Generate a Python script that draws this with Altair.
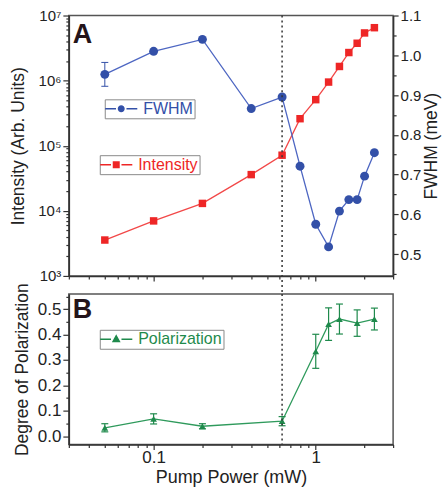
import altair as alt
import pandas as pd

# ---------------- data ----------------
power = [0.05, 0.1, 0.2, 0.4, 0.62, 0.8, 1.0, 1.2, 1.4, 1.6, 1.8, 2.0, 2.3]
intensity = [3.56e3, 7.0e3, 1.3e4, 3.6e4, 7.15e4, 2.6e5, 5.1e5, 9.5e5,
             1.65e6, 2.7e6, 3.75e6, 5.4e6, 6.5e6]
fwhm = [0.952, 1.010, 1.040, 0.866, 0.895, 0.721, 0.575, 0.518,
        0.608, 0.637, 0.637, 0.696, 0.755]
fwhm_err_power = [0.05]
fwhm_err_value = [0.952]
fwhm_err = [0.03]

pol_power = [0.05, 0.1, 0.2, 0.62, 1.0, 1.2, 1.4, 1.8, 2.3]
polarization = [0.033, 0.068, 0.039, 0.059, 0.334, 0.441, 0.461, 0.445, 0.461]
pol_err = [0.016, 0.02, 0.01, 0.018, 0.067, 0.064, 0.059, 0.052, 0.043]

threshold = [0.62]
panel_a = ["A"]
panel_b = ["B"]

# ---------------- style ----------------
FONT = "Liberation Sans"
BLUE = "#3350a8"
BLUE_LINE = "#4d66c2"
RED = "#ee2626"
RED_LINE = "#f24848"
GREEN = "#1f8a4c"
GREEN_LINE = "#2f9a5c"
W = 325
TOP_H = 261
BOT_H = 151
GAP = 16

MAJ_LOG = "abs(log(datum.value)/LN10 - round(log(datum.value)/LN10)) < 0.001"
MAJ_TENTH = "abs(datum.value*10 - round(datum.value*10)) < 0.001"
SUP = "['\u2070','\u00b9','\u00b2','\u00b3','\u2074','\u2075','\u2076','\u2077','\u2078']"

x_ticks = [round(m * 10.0 ** e, 6) for e in (-2, -1, 0) for m in range(1, 10)
           if 0.03 - 1e-9 <= m * 10.0 ** e <= 3 + 1e-9]
int_ticks = [m * 10 ** e for e in (3, 4, 5, 6) for m in range(1, 10)] + [10 ** 7]
fwhm_ticks = [round(0.45 + 0.05 * i, 2) for i in range(14)]
pol_ticks = [round(0.05 * i, 2) for i in range(12)]

CIRCLE_SYM = ("M-2.3,0L-0.75,0M0.75,0L2.3,0M-0.4,0A0.4,0.4,0,1,1,0.4,0"
              "A0.4,0.4,0,1,1,-0.4,0Z")
SQUARE_SYM = "M-2.3,0L-0.75,0M0.75,0L2.3,0M-0.4,-0.4L0.4,-0.4L0.4,0.4L-0.4,0.4Z"
TRI_SYM = "M-2.3,0L-0.75,0M0.75,0L2.3,0M0,-0.5L0.46,0.34L-0.46,0.34Z"
CAP = "M-1,0L1,0"


def tick_size(test, major, minor):
    return {"condition": {"test": test, "value": major}, "value": minor}


def make_legend(x, y, sym, color):
    return alt.Legend(title=None, orient="none", legendX=x, legendY=y,
                      symbolType=sym, symbolSize=196, symbolFillColor=color,
                      symbolStrokeColor=color, symbolStrokeWidth=1.4,
                      symbolOffset=7, labelOffset=14, labelColor=color,
                      labelFont=FONT, labelFontSize=16, fillColor="white",
                      strokeColor="#8a8a8a", padding=1.5)


x_scale = alt.Scale(type="log", domain=[0.03, 3], nice=False)

x_axis_top = alt.Axis(values=x_ticks, labels=False, title=None, grid=False,
                      tickSize=tick_size(MAJ_LOG, 5, 3))
x_axis_bot = alt.Axis(values=x_ticks, title="Pump Power (mW)", grid=False,
                      labelExpr="abs(datum.value-0.1)<1e-6 ? '0.1' : (abs(datum.value-1)<1e-6 ? '1' : '')",
                      labelOverlap=False, labelFlush=False, labelFontSize=17,
                      titleFontSize=18, labelPadding=0, titlePadding=3,
                      tickSize=tick_size(MAJ_LOG, 5, 3))

int_scale = alt.Scale(type="log", domain=[1e3, 1e7], nice=False)
int_axis = alt.Axis(orient="left", values=int_ticks, grid=False,
                    title="Intensity (Arb. Units)",
                    labelExpr=MAJ_LOG + " ? '10' + " + SUP + "[round(log(datum.value)/LN10)] : ''",
                    labelOverlap=False, labelFlush=False, labelFontSize=15,
                    titleFontSize=17.5, labelPadding=2, titlePadding=10,
                    tickSize=tick_size(MAJ_LOG, 6, 3))

fwhm_scale = alt.Scale(domain=[0.445, 1.1], nice=False, zero=False)
fwhm_axis = alt.Axis(orient="right", values=fwhm_ticks, grid=False,
                     title="FWHM (meV)", titleAngle=270, titleBaseline="top",
                     labelExpr=MAJ_TENTH + " ? format(datum.value, '.1f') : ''",
                     labelOverlap=False, labelFlush=False, labelFontSize=15,
                     titleFontSize=17.5, labelPadding=2, titlePadding=2,
                     tickSize=tick_size(MAJ_TENTH, 5, 3))

pol_scale = alt.Scale(domain=[-0.033, 0.56], nice=False, zero=False)
pol_axis = alt.Axis(orient="left", values=pol_ticks, grid=False,
                    title="Degree of Polarization",
                    labelExpr=MAJ_TENTH + " ? format(datum.value, '.1f') : ''",
                    labelOverlap=False, labelFlush=False, labelFontSize=17,
                    titleFontSize=17.5, labelPadding=2, titlePadding=6,
                    tickSize=tick_size(MAJ_TENTH, 6, 3))

# ---------------- tables ----------------
df_int = pd.DataFrame({"power": power, "value": intensity, "series": "Intensity"})
df_fwhm = pd.DataFrame({"power": power, "value": fwhm, "series": "FWHM"})
df_fe = pd.DataFrame({
    "power": fwhm_err_power,
    "lo": [v - e for v, e in zip(fwhm_err_value, fwhm_err)],
    "hi": [v + e for v, e in zip(fwhm_err_value, fwhm_err)],
})
df_pol = pd.DataFrame({"power": pol_power, "value": polarization,
                       "series": "Polarization",
                       "lo": [v - e for v, e in zip(polarization, pol_err)],
                       "hi": [v + e for v, e in zip(polarization, pol_err)]})
df_thr = pd.DataFrame({"power": threshold})

x_top = alt.X("power:Q", scale=x_scale, axis=x_axis_top)
x_bot = alt.X("power:Q", scale=x_scale, axis=x_axis_bot)

# ---------------- top panel ----------------
y_int = alt.Y("value:Q", scale=int_scale, axis=int_axis)
int_line = alt.Chart(df_int).mark_line(color=RED_LINE, strokeWidth=1.3).encode(x=x_top, y=y_int)
int_pts = alt.Chart(df_int).mark_point(shape="square", filled=True, size=56, opacity=1).encode(
    x=x_top, y=y_int,
    color=alt.Color("series:N", scale=alt.Scale(domain=["Intensity"], range=[RED]),
                    legend=make_legend(31, 140, SQUARE_SYM, RED)))
int_group = alt.layer(int_line, int_pts)

y_fw = alt.Y("value:Q", scale=fwhm_scale, axis=fwhm_axis)
fw_line = alt.Chart(df_fwhm).mark_line(color=BLUE_LINE, strokeWidth=1.3).encode(x=x_top, y=y_fw)
fw_err = alt.Chart(df_fe).mark_rule(color=BLUE, strokeWidth=1).encode(
    x=x_top, y=alt.Y("lo:Q", scale=fwhm_scale, axis=fwhm_axis), y2="hi:Q")
fw_cap_lo = alt.Chart(df_fe).mark_point(shape=CAP, size=49, color=BLUE, strokeWidth=1,
                                         opacity=1).encode(
    x=x_top, y=alt.Y("lo:Q", scale=fwhm_scale, axis=fwhm_axis))
fw_cap_hi = alt.Chart(df_fe).mark_point(shape=CAP, size=49, color=BLUE, strokeWidth=1,
                                         opacity=1).encode(
    x=x_top, y=alt.Y("hi:Q", scale=fwhm_scale, axis=fwhm_axis))
fw_pts = alt.Chart(df_fwhm).mark_point(shape="circle", filled=True, size=80, opacity=1).encode(
    x=x_top, y=y_fw,
    color=alt.Color("series:N", scale=alt.Scale(domain=["FWHM"], range=[BLUE]),
                    legend=make_legend(36, 84, CIRCLE_SYM, BLUE)))
fw_group = alt.layer(fw_line, fw_err, fw_cap_lo, fw_cap_hi, fw_pts)

thr_top = alt.Chart(df_thr).mark_rule(color="#333333", strokeWidth=1.5, strokeDash=[2, 3]).encode(
    x=x_top, y=alt.value(0), y2=alt.value(TOP_H + GAP))
lab_a = alt.Chart(pd.DataFrame({"t": panel_a})).mark_text(
    align="left", baseline="alphabetic", font=FONT, fontSize=27, fontWeight="bold",
    color="#24141a").encode(text="t:N", x=alt.value(4), y=alt.value(28))

top = alt.layer(int_group, fw_group, thr_top, lab_a).resolve_scale(
    y="independent", color="independent").properties(width=W, height=TOP_H)

# ---------------- bottom panel ----------------
y_pol = alt.Y("value:Q", scale=pol_scale, axis=pol_axis)
pol_line = alt.Chart(df_pol).mark_line(color=GREEN_LINE, strokeWidth=1.3).encode(x=x_bot, y=y_pol)
pol_err_r = alt.Chart(df_pol).mark_rule(color=GREEN, strokeWidth=1.2).encode(
    x=x_bot, y=alt.Y("lo:Q", scale=pol_scale, axis=pol_axis), y2="hi:Q")
pol_cap_lo = alt.Chart(df_pol).mark_point(shape=CAP, size=49, color=GREEN, strokeWidth=1.2,
                                           opacity=1).encode(
    x=x_bot, y=alt.Y("lo:Q", scale=pol_scale, axis=pol_axis))
pol_cap_hi = alt.Chart(df_pol).mark_point(shape=CAP, size=49, color=GREEN, strokeWidth=1.2,
                                           opacity=1).encode(
    x=x_bot, y=alt.Y("hi:Q", scale=pol_scale, axis=pol_axis))
pol_pts = alt.Chart(df_pol).mark_point(shape="triangle-up", filled=True, size=45, opacity=1).encode(
    x=x_bot, y=y_pol,
    color=alt.Color("series:N", scale=alt.Scale(domain=["Polarization"], range=[GREEN]),
                    legend=make_legend(31, 36, TRI_SYM, GREEN)))
thr_bot = alt.Chart(df_thr).mark_rule(color="#333333", strokeWidth=1.5, strokeDash=[2, 3]).encode(
    x=x_bot, y=alt.value(0), y2=alt.value(BOT_H))
lab_b = alt.Chart(pd.DataFrame({"t": panel_b})).mark_text(
    align="left", baseline="alphabetic", font=FONT, fontSize=27, fontWeight="bold",
    color="#24141a").encode(text="t:N", x=alt.value(4), y=alt.value(24))

bottom = alt.layer(pol_line, pol_err_r, pol_cap_lo, pol_cap_hi, pol_pts, thr_bot, lab_b).properties(
    width=W, height=BOT_H)

chart = alt.vconcat(top, bottom, spacing=-13).resolve_scale(color="independent").properties(
    padding={"left": 9, "top": 7, "right": 0, "bottom": 0}, background="white"
).configure_view(stroke="#555555", strokeWidth=1.5).configure_axis(
    domainColor="#333333", domainWidth=1.5, tickColor="#333333", tickWidth=1.2,
    labelColor="#222222", titleColor="#222222", labelFont=FONT, titleFont=FONT,
    titleFontWeight="normal")

chart.save("out.html", embed_options={"renderer": "svg", "actions": False})
